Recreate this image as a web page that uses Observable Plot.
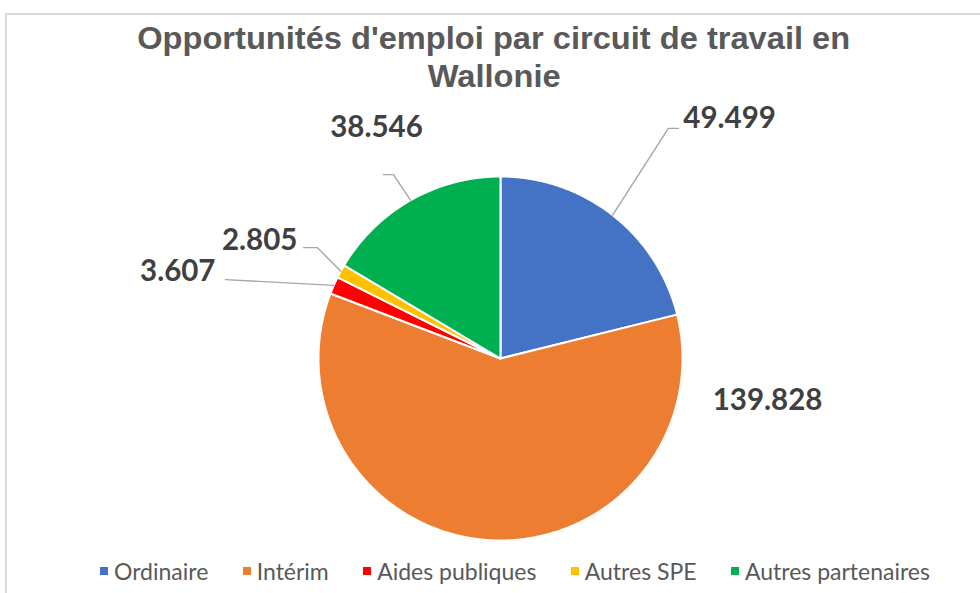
<!DOCTYPE html>
<html><head><meta charset="utf-8">
<script src="https://cdn.jsdelivr.net/npm/d3@7"></script>
<script src="https://cdn.jsdelivr.net/npm/@observablehq/plot@0.6"></script>
<style>
html,body{margin:0;padding:0;background:#fff;overflow:hidden;width:980px;height:593px}
#frame{position:absolute;left:5px;top:13px;width:1000px;height:620px;border:2px solid #d9d9d9;box-sizing:border-box}
#title{position:absolute;left:0;width:988px;top:19px;text-align:center;font-family:"Liberation Sans",Arial,sans-serif;font-weight:bold;font-size:32px;color:#595959;line-height:38px}
#title span{display:inline-block;white-space:nowrap;transform-origin:50% 50%}
#chart{position:absolute;left:0;top:0}
#legend{position:absolute;left:100px;top:557px;display:flex;align-items:center;font-family:Lato,"Open Sans",sans-serif;font-size:23px;color:#595959;white-space:nowrap}
#legend .item{display:flex;align-items:center;margin-right:30px}
#legend .item:last-child{margin-right:0}
#legend .sw{width:8px;height:8px;margin-right:6px}
</style>
</head><body>
<div id="frame"></div>
<div id="chart"></div>
<div id="title"><span>Opportunités d'emploi par circuit de travail en</span><br><span>Wallonie</span></div>
<div id="legend"></div>
<script>
// ---- data ----
const categories = ["Ordinaire", "Intérim", "Aides publiques", "Autres SPE", "Autres partenaires"];
const values = [49499, 139828, 3607, 2805, 38546];
const valueLabels = ["49.499", "139.828", "3.607", "2.805", "38.546"];
const colors = ["#4472C4", "#ED7D31", "#FF0000", "#FFC000", "#00B050"];

// ---- layout (pixels) ----
const W = 980, H = 593, cx = 500, cy = 358, R = 182;
// label placement: elbow in polar (radius factor, degrees clockwise from top),
// horizontal leg (px), text offset from leg end (px), anchor
const labelLayout = [
  {leader: true,  r: 1.565, a: 36.1,  leg: 10,  tdx: 5,   tdy: -10, anchor: "start"},
  {leader: false, r: 1.485, a: 98.9,  leg: 0,   tdx: 0,   tdy: 0,   anchor: "middle"},
  {leader: true,  r: 1.572, a: 286.0, leg: 0,   tdx: -10, tdy: -8,  anchor: "end"},
  {leader: true,  r: 1.176, a: 301.2, leg: -14, tdx: -6,  tdy: -7,  anchor: "end"},
  {leader: true,  r: 1.169, a: 329.8, leg: -10, tdx: -7,  tdy: -47, anchor: "middle"}
];

const data = categories.map((name, i) => ({name, value: values[i], label: valueLabels[i]}));
const arcs = d3.pie().sort(null).value(d => d.value)(data);

// slice polygons in unit coordinates (y up)
const slicePts = arcs.flatMap(a => {
  const n = Math.max(2, Math.ceil((a.endAngle - a.startAngle) / (Math.PI / 360)));
  const pts = [{name: a.data.name, x: 0, y: 0}];
  for (let k = 0; k <= n; k++) {
    const t = a.startAngle + (a.endAngle - a.startAngle) * k / n;
    pts.push({name: a.data.name, x: Math.sin(t), y: Math.cos(t)});
  }
  return pts;
});

const leaderPts = [];
const labelPts = [];
arcs.forEach((a, i) => {
  const L = labelLayout[i];
  const mid = (a.startAngle + a.endAngle) / 2;
  const ea = L.a * Math.PI / 180;
  const ex = L.r * Math.sin(ea), ey = L.r * Math.cos(ea);
  const endx = ex + L.leg / R;
  if (L.leader) {
    leaderPts.push({name: a.data.name, x: Math.sin(mid), y: Math.cos(mid)});
    leaderPts.push({name: a.data.name, x: ex, y: ey});
    if (L.leg) leaderPts.push({name: a.data.name, x: endx, y: ey});
  }
  labelPts.push({name: a.data.name, label: a.data.label, anchor: L.anchor,
    x: endx + L.tdx / R, y: ey - L.tdy / R});
});

const labelMark = anchor => Plot.text(labelPts.filter(d => d.anchor === anchor), {
  x: "x", y: "y", text: "label", textAnchor: anchor,
  fill: "#404040", fontSize: 29.5, fontWeight: "bold",
  fontFamily: "Lato, 'Open Sans', sans-serif"
});

const chart = Plot.plot({
  width: W, height: H,
  margin: 0,
  x: {domain: [-1, 1], range: [cx - R, cx + R], axis: null},
  y: {domain: [-1, 1], range: [cy + R, cy - R], axis: null},
  color: {domain: categories, range: colors},
  style: {background: "transparent", overflow: "visible"},
  marks: [
    Plot.line(slicePts, {x: "x", y: "y", z: "name", fill: "name", stroke: "white",
      strokeWidth: 2, strokeLinejoin: "round", curve: "linear-closed"}),
    Plot.line(leaderPts, {x: "x", y: "y", z: "name", stroke: "#A6A6A6", strokeWidth: 1.4}),
    labelMark("start"), labelMark("middle"), labelMark("end")
  ]
});
document.getElementById("chart").append(chart);

// legend
const legend = document.getElementById("legend");
const items = categories.map((c, i) => {
  const it = document.createElement("div"); it.className = "item";
  const sw = document.createElement("div"); sw.className = "sw"; sw.style.background = colors[i];
  const tx = document.createElement("span"); tx.textContent = c;
  it.append(sw, tx); legend.append(it);
  return it;
});
// spread the legend across the same span as the reference (x 100 → 930)
const natural = items.reduce((s, it) => s + it.getBoundingClientRect().width, 0);
const gap = Math.max(10, (830 - natural) / (items.length - 1));
items.forEach((it, i) => it.style.marginRight = i < items.length - 1 ? gap + "px" : "0");

// condense title like the reference
const spans = document.querySelectorAll("#title span");
const w0 = spans[0].getBoundingClientRect().width;
const s = 713 / w0;
spans.forEach(sp => sp.style.transform = `scaleX(${s})`);
</script>
</body></html>
